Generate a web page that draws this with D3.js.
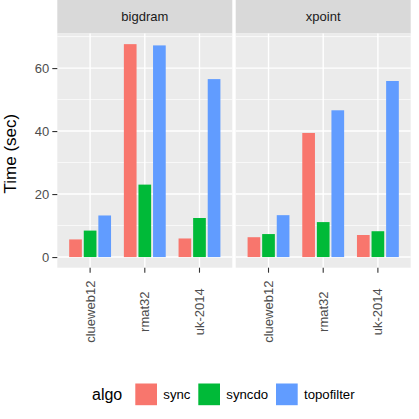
<!DOCTYPE html>
<html>
<head>
<meta charset="utf-8">
<script src="https://cdn.jsdelivr.net/npm/d3@7"></script>
<style>
	body { margin: 0; background: #fff; }
	svg { font-family: "Liberation Sans", Arial, sans-serif; display: block; }
</style>
</head>
<body>
<div id="chart"></div>
<script>
const facets = ["bigdram", "xpoint"];
const graphs = ["clueweb12", "rmat32", "uk-2014"];
const algos = ["sync", "syncdo", "topofilter"];
const colors = ["#F8766D", "#00BA38", "#619CFF"];
const yTicks = [0, 20, 40, 60];

// time in sec, one row per graph, one value per algo
const bigdram = [
	[5.6, 8.4, 13.2],
	[67.6, 23.0, 67.2],
	[5.9, 12.4, 56.5],
];
const xpoint = [
	[6.3, 7.3, 13.3],
	[39.4, 11.1, 46.6],
	[7.0, 8.2, 55.9],
];
const facetData = [bigdram, xpoint];

const W = 419, H = 419;
const panels = [{ x0: 57.3, x1: 232.3 }, { x0: 235.7, x1: 410.7 }];
const stripTop = 0, stripBottom = 33.5;
const panelTop = 33.5, panelBottom = 267.7;

const svg = d3.select("#chart").append("svg")
	.attr("width", W)
	.attr("height", H);

const maxVal = d3.max(facetData.flat(2));
const y = d3.scaleLinear()
	.domain([-maxVal * 0.05, maxVal * 1.05])
	.range([panelBottom, panelTop]);

panels.forEach((p, fi) => {
	const x = d3.scaleBand()
		.domain(graphs)
		.range([p.x0, p.x1])
		.paddingInner(0)
		.paddingOuter(0.1);
	const step = x.bandwidth();
	const xa = d3.scaleBand()
		.domain(algos)
		.range([-0.4 * step, 0.4 * step]);

	const g = svg.append("g");

	// strip
	g.append("rect")
		.attr("x", p.x0).attr("y", stripTop)
		.attr("width", p.x1 - p.x0).attr("height", stripBottom - stripTop)
		.attr("fill", "#d9d9d9");
	g.append("text")
		.attr("x", (p.x0 + p.x1) / 2)
		.attr("y", (stripTop + stripBottom) / 2)
		.attr("dy", "0.35em")
		.attr("text-anchor", "middle")
		.attr("fill", "#1a1a1a")
		.style("font-size", "13px")
		.text(facets[fi]);

	// panel background
	g.append("rect")
		.attr("x", p.x0).attr("y", panelTop)
		.attr("width", p.x1 - p.x0).attr("height", panelBottom - panelTop)
		.attr("fill", "#ebebeb");

	// minor grid
	[10, 30, 50, 70].forEach(v => {
		g.append("line")
			.attr("x1", p.x0).attr("x2", p.x1)
			.attr("y1", y(v)).attr("y2", y(v))
			.attr("stroke", "#fff").attr("stroke-width", 0.7);
	});
	// major grid
	yTicks.forEach(v => {
		g.append("line")
			.attr("x1", p.x0).attr("x2", p.x1)
			.attr("y1", y(v)).attr("y2", y(v))
			.attr("stroke", "#fff").attr("stroke-width", 1.4);
	});
	graphs.forEach(c => {
		const cx = x(c) + step / 2;
		g.append("line")
			.attr("x1", cx).attr("x2", cx)
			.attr("y1", panelTop).attr("y2", panelBottom)
			.attr("stroke", "#fff").attr("stroke-width", 1.4);
	});

	// bars
	const rows = [];
	facetData[fi].forEach((vals, gi) => {
		vals.forEach((v, ai) => rows.push({ graph: graphs[gi], algo: algos[ai], value: v, color: colors[ai] }));
	});
	const bw = xa.bandwidth() * 0.87;
	g.selectAll(".bar")
		.data(rows)
		.join("rect")
		.attr("class", "bar")
		.attr("x", d => x(d.graph) + step / 2 + xa(d.algo) + (xa.bandwidth() - bw) / 2)
		.attr("y", d => y(d.value))
		.attr("width", bw)
		.attr("height", d => y(0) - y(d.value))
		.attr("fill", d => d.color);

	// x axis
	const xAxis = g.append("g")
		.attr("transform", `translate(0,${panelBottom})`)
		.call(d3.axisBottom(x).tickSize(5).tickSizeOuter(0).tickPadding(3));
	xAxis.select(".domain").remove();
	xAxis.selectAll(".tick line").attr("stroke", "#333").attr("stroke-width", 1.1);
	xAxis.selectAll("text")
		.attr("transform", "rotate(-90)")
		.attr("x", -44)
		.attr("y", 0)
		.attr("dy", "0.35em")
		.style("text-anchor", "middle")
		.style("font-family", "'Liberation Sans', Arial, sans-serif")
		.style("font-size", "13px")
		.attr("fill", "#4d4d4d");

	// y axis on first panel
	if (fi === 0) {
		const yAxis = g.append("g")
			.attr("transform", `translate(${p.x0},0)`)
			.call(d3.axisLeft(y).tickValues(yTicks).tickSize(5).tickSizeOuter(0).tickPadding(3));
		yAxis.select(".domain").remove();
		yAxis.selectAll(".tick line").attr("stroke", "#333").attr("stroke-width", 1.1);
		yAxis.selectAll("text")
			.style("font-family", "'Liberation Sans', Arial, sans-serif")
			.style("font-size", "13px")
			.attr("fill", "#4d4d4d");
	}
});

// y title
svg.append("text")
	.attr("transform", `translate(15.5,${(panelTop + panelBottom) / 2 + 3}) rotate(-90)`)
	.attr("text-anchor", "middle")
	.attr("fill", "#000")
	.style("font-size", "17px")
	.text("Time (sec)");

// legend
const legend = svg.append("g");
legend.append("text")
	.attr("x", 92)
	.attr("y", 394.5)
	.attr("dy", "0.35em")
	.style("font-size", "16px")
	.text("algo");
const keyX = [135.3, 198.3, 276];
algos.forEach((a, i) => {
	legend.append("rect")
		.attr("x", keyX[i]).attr("y", 383.5)
		.attr("width", 21.7).attr("height", 21.7)
		.attr("fill", colors[i]);
	legend.append("text")
		.attr("x", keyX[i] + 28)
		.attr("y", 394.3)
		.attr("dy", "0.35em")
		.style("font-size", "13.2px")
		.attr("fill", "#000")
		.text(a);
});
</script>
</body>
</html>
